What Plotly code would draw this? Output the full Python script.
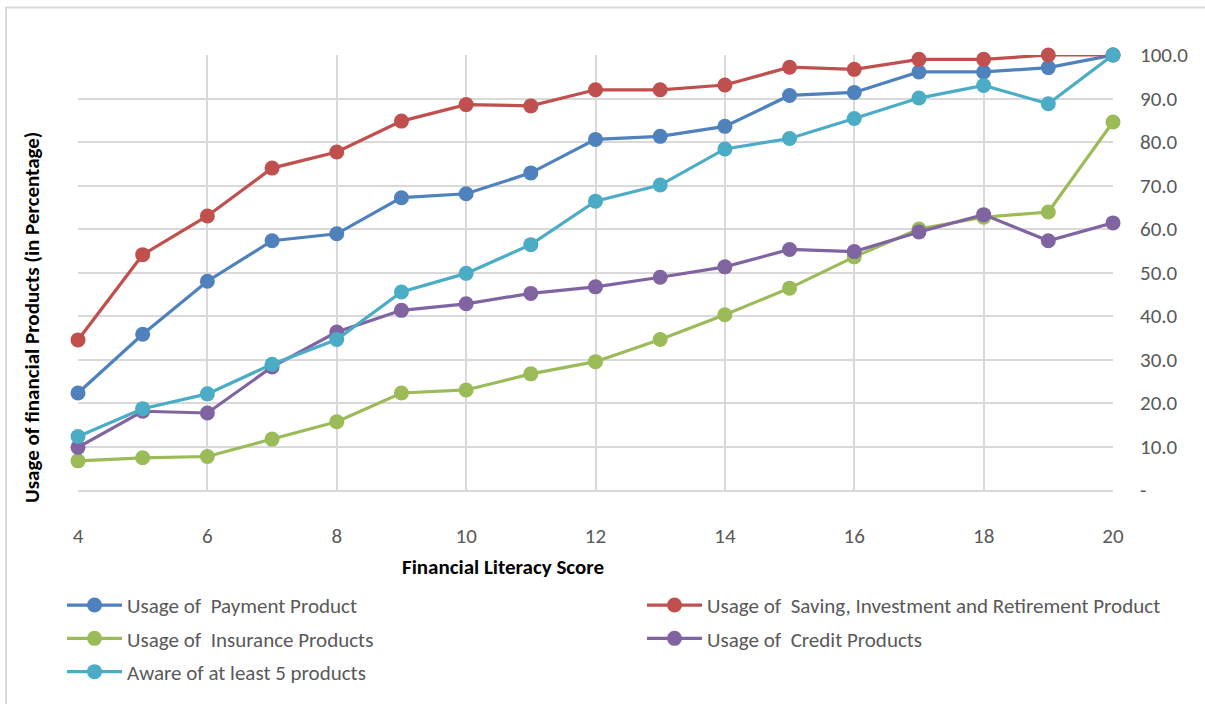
import plotly.graph_objects as go

scores = list(range(4, 21))
payment = [22.3, 35.8, 48.0, 57.3, 58.9, 67.2, 68.1, 72.9, 80.6, 81.3, 83.6, 90.7, 91.4, 96.1, 96.1, 97.1, 100.0]
saving = [34.5, 54.1, 63.0, 74.0, 77.7, 84.8, 88.6, 88.3, 92.0, 92.0, 93.1, 97.2, 96.7, 99.0, 99.0, 100.0, 100.0]
insurance = [6.7, 7.4, 7.7, 11.7, 15.7, 22.3, 23.0, 26.7, 29.5, 34.6, 40.3, 46.4, 53.6, 60.0, 62.7, 63.9, 84.6]
credit = [9.8, 18.1, 17.7, 28.3, 36.3, 41.3, 42.8, 45.2, 46.7, 48.9, 51.3, 55.3, 54.8, 59.3, 63.3, 57.3, 61.4]
aware = [12.3, 18.7, 22.1, 28.9, 34.6, 45.5, 49.8, 56.4, 66.4, 70.1, 78.4, 80.8, 85.4, 90.1, 93.0, 88.8, 100.0]

names = ["Usage of  Payment Product", "Usage of  Saving, Investment and Retirement Product",
         "Usage of  Insurance Products", "Usage of  Credit Products", "Aware of at least 5 products"]
colors = ["#4F81BD", "#C0504D", "#9BBB59", "#8064A2", "#4BACC6"]
legends = ["legend", "legend2", "legend", "legend2", "legend"]
series = [payment, saving, insurance, credit, aware]

ytickvals = [0, 10, 20, 30, 40, 50, 60, 70, 80, 90, 100]
yticktext = ["-", "10.0", "20.0", "30.0", "40.0", "50.0", "60.0", "70.0", "80.0", "90.0", "100.0"]
xtickvals = [4, 6, 8, 10, 12, 14, 16, 18, 20]

FONT = "Calibri, Carlito, Lato, sans-serif"
W, H = 1205, 704
L, R, T, B = 78, 92, 55, 209
pw, ph = W - L - R, H - T - B

def px(xp):
    return (xp - L) / pw

def py(yp):
    return (H - B - yp) / ph

fig = go.Figure()
for i, (nm, col, s, lg) in enumerate(zip(names, colors, series, legends)):
    fig.add_trace(go.Scatter(
        x=scores, y=s, name=nm, mode="lines+markers",
        line=dict(color=col, width=3.2),
        marker=dict(color=col, size=15),
        cliponaxis=False, legend=lg, legendgroup=str(i),
    ))

legend_common = dict(
    orientation="v", xanchor="left", yanchor="top",
    font=dict(family=FONT, size=21, color="#595959"),
    bgcolor="rgba(0,0,0,0)", tracegroupgap=3, itemwidth=55,
)

fig.update_layout(
    width=W, height=H,
    margin=dict(l=L, r=R, t=T, b=B),
    plot_bgcolor="white", paper_bgcolor="white",
    showlegend=True,
    legend=dict(x=px(62), y=py(591), **legend_common),
    legend2=dict(x=px(642), y=py(591), **legend_common),
    xaxis=dict(
        range=[4, 20], tickvals=xtickvals, showgrid=True, gridcolor="#d9d9d9", gridwidth=1.5,
        zeroline=False, showline=True, linecolor="#d9d9d9", linewidth=1.5,
        tickfont=dict(family=FONT, size=21, color="#595959"), ticks="", ticklabelstandoff=26,
    ),
    yaxis=dict(
        range=[0, 100], side="right", tickvals=ytickvals, ticktext=yticktext,
        showgrid=True, gridcolor="#d9d9d9", gridwidth=1.5, zeroline=False,
        showline=False, ticks="", ticklabelstandoff=26,
        tickfont=dict(family=FONT, size=21, color="#595959"),
    ),
    annotations=[
        dict(text="<b>Usage of financial Products (in Percentage)</b>", xref="paper", yref="paper",
             x=px(32), y=py(321), textangle=-90, showarrow=False,
             font=dict(family=FONT, size=21, color="black"), xanchor="center", yanchor="middle"),
        dict(text="<b>Financial Literacy Score</b>", xref="paper", yref="paper",
             x=px(503), y=py(573), showarrow=False,
             font=dict(family=FONT, size=21, color="black"), xanchor="center", yanchor="middle"),
    ],
    shapes=[
        dict(type="rect", xref="paper", yref="paper", x0=px(6), x1=px(1215), y0=py(715), y1=py(7),
             line=dict(color="#d9d9d9", width=2), layer="below"),
    ],
)

fig.write_html("out.html")
